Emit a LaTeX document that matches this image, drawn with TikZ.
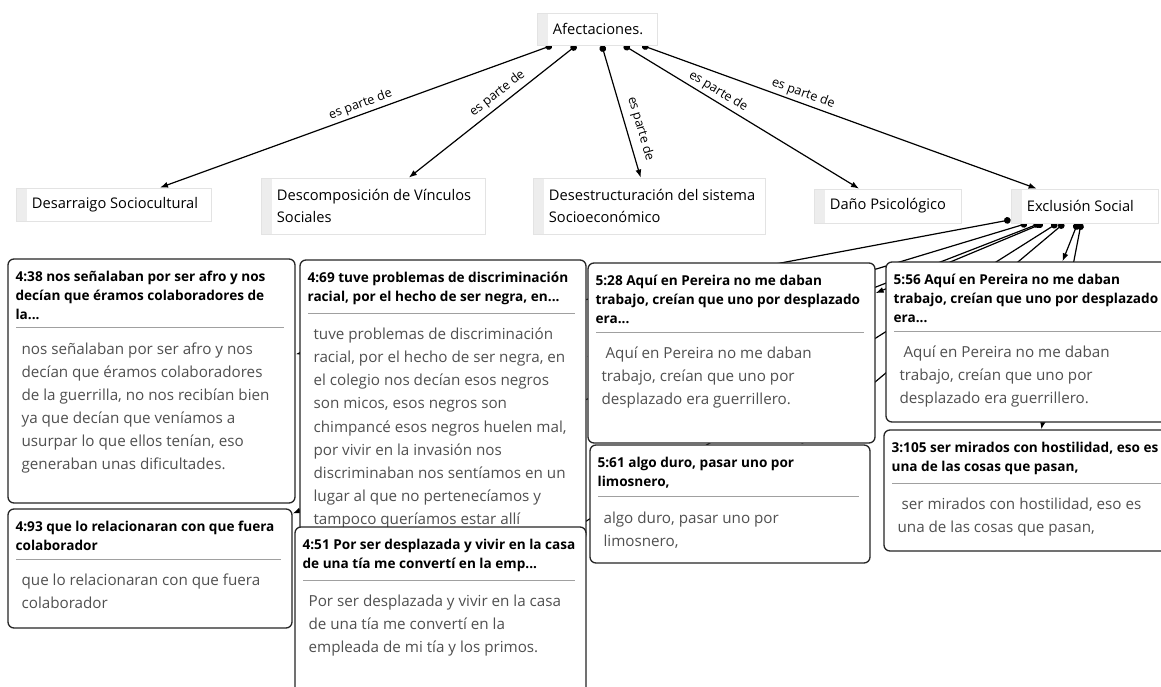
\documentclass[tikz,border=0pt]{standalone}
\usepackage{fontspec}
\setmainfont{Open Sans}
\usetikzlibrary{positioning,fit,arrows.meta}
\pgfdeclarelayer{background}
\pgfsetlayers{background,main}
\definecolor{stripgray}{HTML}{EDEDED}
\definecolor{codeline}{HTML}{E3E3E3}
\definecolor{bodygray}{HTML}{505050}
\definecolor{sepgray}{HTML}{A0A0A0}
\tikzset{
  code/.style={draw=codeline, fill=white, inner sep=0pt, line width=0.6pt,
    path picture={\fill[stripgray] (path picture bounding box.north west)
      rectangle ([xshift=8.25pt]path picture bounding box.south west);}},
  codetext/.style={anchor=west, inner sep=0pt, align=left,
    font=\fontsize{11}{17}\selectfont},
  qbox/.style={draw=black!85, fill=white, rounded corners=4.5pt,
    line width=1pt, inner sep=0pt},
  qhead/.style={anchor=north west, inner sep=0pt, align=left,
    font=\fontsize{10.2}{14.2}\selectfont\bfseries},
  qbody/.style={anchor=north west, inner sep=0pt, align=left, text=bodygray,
    font=\fontsize{11.4}{17.3}\selectfont},
  sepline/.style={draw=sepgray, line width=0.75pt},
  link/.style={line width=0.9pt, {Circle[length=5pt]}-{Latex[length=6pt,width=4.5pt]}},
  rel/.style={font=\fontsize{9.5}{10}\selectfont, inner sep=2pt, sloped},
}
% quotation box: name, x1, y1, x2, y2, header, body
\newcommand{\quotebox}[7]{%
  \node[qbox, fit={(#2,#3) (#4,#5)}] (#1) {};
  \node[qhead, below right=9.5pt and 6pt of #1.north west] (#1-h) {#6};
  \path (#1.west |- #1-h.south) ++(0,8) coordinate (#1-s);
  \draw[sepline, shorten <=6.75pt, shorten >=9pt] (#1-s) -- (#1.east |- #1-s);
  \node[qbody, below right=11pt and 10.5pt of #1-s] {#7};
}
\begin{document}
\begin{tikzpicture}[x=0.75pt,y=-0.75pt]
\useasboundingbox (0,0) rectangle (1161,686);
\begin{pgfonlayer}{background}
\fill[white] (0,0) rectangle (1161,686);
\end{pgfonlayer}
\clip (0,0) rectangle (1161,686);
% codes
\foreach \nm/\xa/\ya/\xb/\yb/\txt in {
  afect/537/13/657/45/{Afectaciones.},
  desarr/16/188/211/221/{Desarraigo Sociocultural},
  descomp/261/178/485/234/{Descomposición de Vínculos\\Sociales},
  desest/533/178/765/234/{Desestructuración del sistema\\Socioeconómico},
  dano/814/189/961/223/{Daño Psicológico},
  exclu/1011/189/1158/223/{Exclusión Social}
}{
  \node[code, fit={(\xa,\ya) (\xb,\yb)}] (\nm) {};
  \node[codetext] at ([shift={(16,0)}]\nm.west) {\txt};
}
% quotations
\quotebox{q438}{8}{259}{295}{503}{4:38 nos señalaban por ser afro y nos\\decían que éramos colaboradores de\\la...}{nos señalaban por ser afro y nos\\decían que éramos colaboradores\\de la guerrilla, no nos recibían bien\\ya que decían que veníamos a\\usurpar lo que ellos tenían, eso\\generaban unas dificultades.}
\quotebox{q493}{8}{509}{292}{628}{4:93 que lo relacionaran con que fuera\\colaborador}{que lo relacionaran con que fuera\\colaborador}
\quotebox{q469}{300}{260}{586}{540}{4:69 tuve problemas de discriminación\\racial, por el hecho de ser negra, en...}{tuve problemas de discriminación\\racial, por el hecho de ser negra, en\\el colegio nos decían esos negros\\son micos, esos negros son\\chimpancé esos negros huelen mal,\\por vivir en la invasión nos\\discriminaban nos sentíamos en un\\lugar al que no pertenecíamos y\\tampoco queríamos estar allí}
\quotebox{q451}{295}{527}{586}{700}{4:51 Por ser desplazada y vivir en la casa\\de una tía me convertí en la emp...}{Por ser desplazada y vivir en la casa\\de una tía me convertí en la\\empleada de mi tía y los primos.}
\quotebox{q528}{588}{263}{875}{443}{5:28 Aquí en Pereira no me daban\\trabajo, creían que uno por desplazado\\era...}{\hspace*{3pt}Aquí en Pereira no me daban\\trabajo, creían que uno por\\desplazado era guerrillero.}
\quotebox{q561}{590}{445}{870}{563}{5:61 algo duro, pasar uno por\\limosnero,}{algo duro, pasar uno por\\limosnero,}
\quotebox{q556}{886}{262}{1175}{422}{5:56 Aquí en Pereira no me daban\\trabajo, creían que uno por desplazado\\era...}{\hspace*{3pt}Aquí en Pereira no me daban\\trabajo, creían que uno por\\desplazado era guerrillero.}
\quotebox{q3105}{884}{430}{1175}{551}{3:105 ser mirados con hostilidad, eso es\\una de las cosas que pasan,}{\hspace*{3pt}ser mirados con hostilidad, eso es\\una de las cosas que pasan,}
% links
\begin{pgfonlayer}{background}
\foreach \q in {q438,q493,q528,q469,q451,q561,q556,q3105}
  \draw[link] (exclu) -- (\q);
\draw[link] (afect) -- node[rel, above, pos=0.48] {es parte de} (desarr);
\draw[link] (afect) -- node[rel, above=1pt, pos=0.43] {es parte de} (descomp);
\draw[link] (afect) -- node[rel, above=3pt, pos=0.66] {es parte de} (desest);
\draw[link] (afect) -- node[rel, above, pos=0.38] {es parte de} (dano);
\draw[link] (afect) -- node[rel, above, pos=0.4] {es parte de} (exclu);
\end{pgfonlayer}
\end{tikzpicture}
\end{document}
